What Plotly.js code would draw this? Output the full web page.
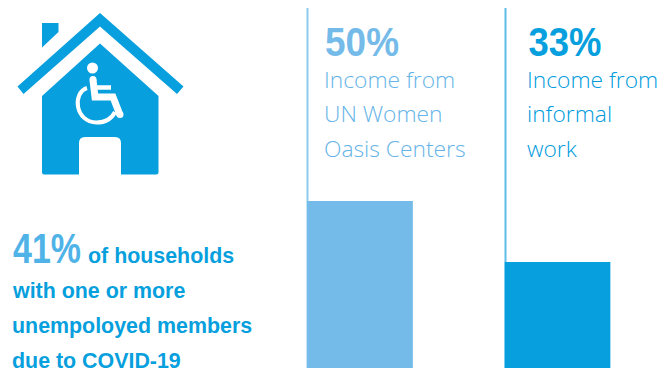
<!DOCTYPE html>
<html>
<head>
<meta charset="utf-8">
<script src="https://cdn.plot.ly/plotly-3.0.1.min.js"></script>
<style>html,body{margin:0;padding:0;background:#fff}#chart{width:663px;height:368px}</style>
</head>
<body>
<div id="chart"></div>
<script>
// Income sources of the surveyed households (percent)
const incomeSources = ['Income from UN Women Oasis Centers', 'Income from informal work'];
const incomeShares = [50, 33];
const shareLabels = ['50%', '33%'];
const sourceLines = [['Income from', 'UN Women', 'Oasis Centers'], ['Income from', 'informal', 'work']];
const householdShare = '41%';
const householdLines = ['of households', 'with one or more', 'unempoloyed members', 'due to COVID-19'];

const BLUE = '#079fdd', LIGHT = '#75bbe9';
const barColours = [LIGHT, BLUE];
const captionColours = ['#66b4e7', '#009bdc'];

const W = 663, H = 368;
const pageAxes = {xref: 'x2', yref: 'y2'};

// House pictogram, drawn in page units on the hidden overlay axes
const fillShape = (path, fillcolor) => ({type: 'path', path, fillcolor, line: {width: 0}, layer: 'above', ...pageAxes});
const strokeShape = (path, width) => ({type: 'path', path, line: {color: '#fff', width}, layer: 'above', ...pageAxes});
const dot = (cx, cy, r) => ({type: 'circle', x0: cx - r, x1: cx + r, y0: cy - r, y1: cy + r, fillcolor: '#fff', line: {width: 0}, layer: 'above', ...pageAxes});

const shapes = [
  fillShape('M42 23 H58.5 V32 L42 47.5 Z', BLUE),
  fillShape('M100 13 L183.5 86.5 L177 94 L100 26.5 L23.5 94 L17.5 86.5 Z', BLUE),
  fillShape('M100 43.5 L158.5 96 V172 Q158.5 174.5 156 174.5 H121 V143 Q121 137 115 137 H85 Q79 137 79 143 V174.5 H44 Q42 174.5 42 172 V96 Z', BLUE),
  dot(92.5, 68, 5.5),
  strokeShape('M93 80 L95 97 H113 L120 115', 7),
  dot(93, 79.5, 3.5), dot(120, 114.5, 3.5),
  strokeShape('M97 87.5 H111', 4.5),
  strokeShape('M87 88 C72 93 75 122 96.5 122.5 C106 122.5 112 118 115 112', 4),
  // Divider rules above the bars
  {type: 'line', x0: 307.5, x1: 307.5, y0: 8, y1: 368, line: {color: '#8ccaee', width: 2}, layer: 'below', ...pageAxes},
  {type: 'line', x0: 505.5, x1: 505.5, y0: 8, y1: 368, line: {color: '#5fbde9', width: 2}, layer: 'below', ...pageAxes}
];

const note = (text, x, y, size, color, family, weight, xanchor = 'left') => ({
  text, x, y, ...pageAxes, xanchor, yanchor: 'middle', showarrow: false,
  borderpad: 0, borderwidth: 0,
  font: {size, color, family, weight}
});

const BODY = '"Liberation Sans", sans-serif';
const LIGHTFACE = '"Open Sans", sans-serif';

const annotations = [
  note(householdShare, 47, 248, 42, '#4fb3e8', BODY, 700, 'center'),
  note(householdLines[0], 88, 256, 21.4, BLUE, BODY, 700),
  note(householdLines[1], 12, 291, 21.4, BLUE, BODY, 700),
  note(householdLines[2], 12, 326, 21.4, BLUE, BODY, 700),
  note(householdLines[3], 12, 360.5, 21.4, BLUE, BODY, 700)
];
const columnX = [324, 527];
const shareCentreX = [362, 564.5];
const lineY = [79, 113, 148];
incomeSources.forEach((_, i) => {
  annotations.push(note(shareLabels[i], shareCentreX[i], 42, 41, barColours[i], BODY, 700, 'center'));
  sourceLines[i].forEach((line, j) => {
    annotations.push(note(line, columnX[i], lineY[j], 22.8, captionColours[i], LIGHTFACE, 300));
  });
});

const bars = {
  type: 'bar',
  x: incomeSources,
  y: incomeShares,
  width: 0.535,
  marker: {color: barColours, line: {width: 0}},
  hoverinfo: 'x+y'
};

const layout = {
  width: W, height: H,
  margin: {l: 0, r: 0, t: 0, b: 0},
  paper_bgcolor: '#fff', plot_bgcolor: '#fff',
  showlegend: false,
  // Bars run off the bottom edge of the page, so the value axis starts just above zero
  xaxis: {type: 'category', range: [-1.823, 1.534], visible: false, fixedrange: true},
  yaxis: {range: [3.46, 106], visible: false, fixedrange: true},
  xaxis2: {range: [0, W], overlaying: 'x', visible: false, fixedrange: true},
  yaxis2: {range: [H, 0], overlaying: 'y', visible: false, fixedrange: true},
  shapes, annotations
};

// An empty trace keeps the overlay axes alive for the page-unit decorations
const overlay = {type: 'scatter', x: [], y: [], xaxis: 'x2', yaxis: 'y2', hoverinfo: 'skip'};

// The headline percentages are set in a condensed cut: squeeze the bold face to that width
const condensedWidths = {'41%': 68, '50%': 74, '33%': 73};

Plotly.newPlot('chart', [bars, overlay], layout, {displayModeBar: false, staticPlot: true}).then(() => {
  document.querySelectorAll('#chart .annotation-text').forEach(el => {
    const width = condensedWidths[el.textContent.trim()];
    if (width) {
      el.setAttribute('textLength', width);
      el.setAttribute('lengthAdjust', 'spacingAndGlyphs');
    }
  });
});
</script>
</body>
</html>
